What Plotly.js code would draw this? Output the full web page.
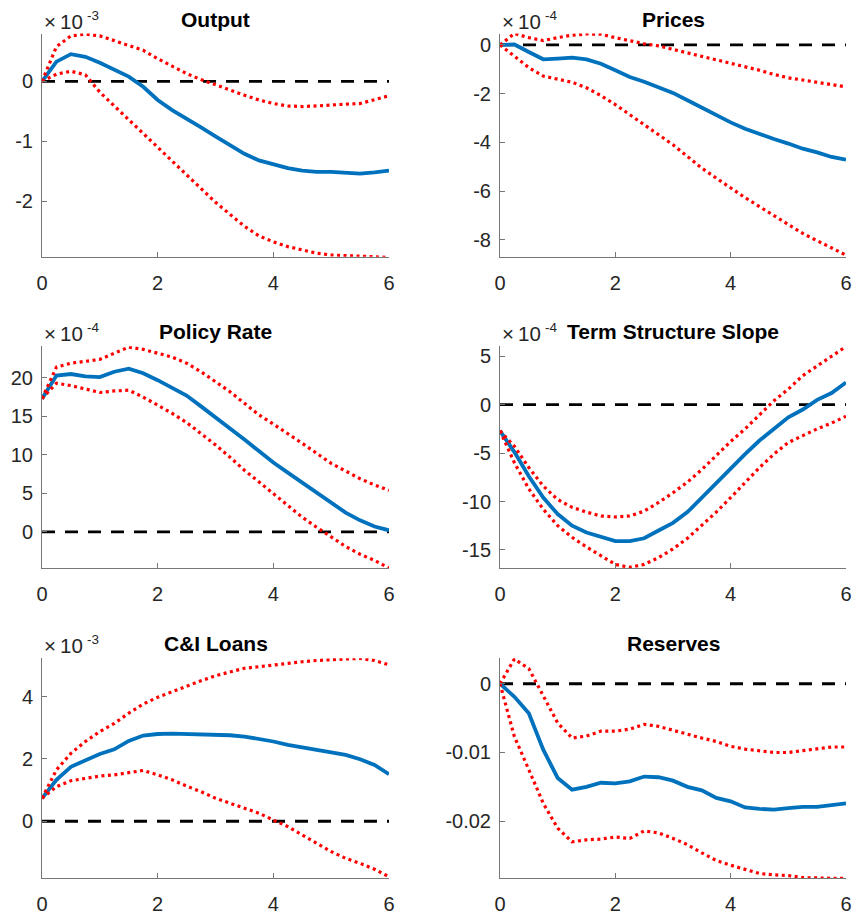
<!DOCTYPE html>
<html>
<head>
<meta charset="utf-8">
<script src="https://cdn.plot.ly/plotly-3.0.1.min.js"></script>
<style>html,body{margin:0;padding:0;background:#fff;}#chart{width:856px;height:916px;}</style>
</head>
<body>
<div id="chart"></div>
<script>
// horizon (years)
const horizon = [0,0.25,0.5,0.75,1,1.25,1.5,1.75,2,2.25,2.5,2.75,3,3.25,3.5,3.75,4,4.25,4.5,4.75,5,5.25,5.5,5.75,6];

// Output (x 1e-3)
const outputMed = [0,0.33,0.455,0.41,0.31,0.2,0.08,-0.09,-0.31,-0.48,-0.62,-0.77,-0.92,-1.06,-1.21,-1.32,-1.39,-1.45,-1.49,-1.51,-1.51,-1.52,-1.54,-1.52,-1.49];
const outputHi  = [0,0.58,0.76,0.79,0.76,0.68,0.61,0.52,0.38,0.26,0.13,0.03,-0.06,-0.14,-0.23,-0.31,-0.37,-0.41,-0.42,-0.41,-0.39,-0.38,-0.37,-0.31,-0.24];
const outputLo  = [0,0.12,0.17,0.11,-0.18,-0.41,-0.64,-0.87,-1.1,-1.33,-1.56,-1.79,-2.02,-2.22,-2.42,-2.58,-2.68,-2.76,-2.82,-2.87,-2.9,-2.91,-2.92,-2.92,-2.94];

// Prices (x 1e-4)
const pricesMed = [0,0.02,-0.29,-0.59,-0.56,-0.52,-0.59,-0.77,-1.04,-1.32,-1.51,-1.72,-1.97,-2.27,-2.58,-2.9,-3.18,-3.44,-3.66,-3.86,-4.05,-4.26,-4.41,-4.6,-4.71];
const pricesHi  = [0,0.47,0.3,0.18,0.3,0.4,0.45,0.44,0.3,0.16,0.05,-0.04,-0.18,-0.32,-0.45,-0.59,-0.76,-0.89,-1.04,-1.21,-1.35,-1.44,-1.53,-1.62,-1.72];
const pricesLo  = [0,-0.45,-0.93,-1.28,-1.39,-1.53,-1.76,-2.08,-2.45,-2.86,-3.27,-3.68,-4.1,-4.58,-5.06,-5.47,-5.88,-6.27,-6.64,-7.01,-7.4,-7.74,-8.04,-8.32,-8.63];

// Policy Rate (x 1e-4)
const policyMed = [17.3,20.3,20.5,20.2,20.1,20.8,21.2,20.6,19.7,18.7,17.7,16.3,14.9,13.4,12.0,10.5,9.0,7.7,6.4,5.0,3.7,2.5,1.5,0.7,0.2];
const policyHi  = [17.3,21.4,21.9,22.1,22.4,23.2,24.0,23.7,23.2,22.7,21.9,20.8,19.5,18.2,16.7,15.2,14.0,12.8,11.5,10.2,8.9,7.9,6.9,6.1,5.4];
const policyLo  = [17.3,19.3,19.0,18.6,18.1,18.3,18.4,17.5,16.5,15.4,14.2,12.8,11.3,9.7,8.0,6.5,5.0,3.5,1.9,0.6,-0.6,-1.9,-2.9,-3.7,-4.7];

// Term Structure Slope (x 1e-4)
const slopeMed = [-2.7,-4.9,-7.4,-9.6,-11.3,-12.5,-13.2,-13.6,-14.1,-14.1,-13.8,-13.0,-12.2,-11.1,-9.6,-8.0,-6.6,-5.1,-3.7,-2.5,-1.3,-0.5,0.5,1.2,2.3];
const slopeHi  = [-2.7,-4.3,-6.5,-8.4,-9.8,-10.6,-11.1,-11.5,-11.6,-11.5,-11.0,-10.1,-9.1,-8.0,-6.7,-5.2,-3.8,-2.5,-1.1,0.4,1.6,3.0,4.0,5.0,6.0];
const slopeLo  = [-2.7,-6.0,-8.7,-10.8,-12.5,-13.7,-14.7,-15.6,-16.5,-16.8,-16.5,-15.8,-14.9,-13.8,-12.5,-11.1,-9.6,-8.0,-6.5,-5.1,-3.9,-3.2,-2.5,-1.9,-1.2];

// C&I Loans (x 1e-3)
const loansMed = [0.74,1.33,1.75,1.97,2.16,2.31,2.58,2.75,2.8,2.81,2.8,2.77,2.75,2.76,2.72,2.65,2.56,2.45,2.37,2.31,2.24,2.13,1.99,1.81,1.51];
const loansHi  = [0.74,1.65,2.18,2.56,2.88,3.14,3.47,3.76,3.98,4.16,4.34,4.51,4.67,4.8,4.91,4.96,5.02,5.07,5.12,5.16,5.18,5.19,5.23,5.16,5.02];
const loansLo  = [0.74,1.11,1.3,1.38,1.45,1.49,1.56,1.63,1.49,1.33,1.13,0.95,0.74,0.58,0.42,0.26,0.04,-0.17,-0.44,-0.71,-0.97,-1.19,-1.35,-1.54,-1.78];

// Reserves
const reservesMed = [0,-0.0019,-0.0043,-0.0096,-0.0137,-0.0154,-0.0150,-0.0144,-0.0145,-0.0142,-0.0135,-0.0136,-0.0141,-0.0150,-0.0155,-0.0166,-0.0171,-0.0180,-0.0182,-0.0183,-0.0181,-0.0179,-0.0179,-0.0176,-0.0174];
const reservesHi  = [0,0.0036,0.0022,-0.0018,-0.0057,-0.0079,-0.0076,-0.0069,-0.0069,-0.0066,-0.0059,-0.0062,-0.0068,-0.0074,-0.0079,-0.0084,-0.0091,-0.0095,-0.0097,-0.0100,-0.0100,-0.0097,-0.0094,-0.0092,-0.0092];
const reservesLo  = [0,-0.0077,-0.0125,-0.0174,-0.0210,-0.0230,-0.0227,-0.0226,-0.0223,-0.0225,-0.0214,-0.0217,-0.0225,-0.0234,-0.0246,-0.0257,-0.0264,-0.0270,-0.0276,-0.0278,-0.0279,-0.0282,-0.0283,-0.0283,-0.0283];

const titles = ["Output","Prices","Policy Rate","Term Structure Slope","C&I Loans","Reserves"];
const exponents = ["-3","-4","-4","-4","-3",""];
const xTicks = [0,2,4,6];
const yTickVals = [[-2,-1,0],[-8,-6,-4,-2,0],[0,5,10,15,20],[-15,-10,-5,0,5],[0,2,4],[-0.02,-0.01,0]];
const yTickText = [["-2","-1","0"],["-8","-6","-4","-2","0"],["0","5","10","15","20"],["-15","-10","-5","0","5"],["0","2","4"],["-0.02","-0.01","0"]];
const yRanges = [[-2.93,0.8],[-8.7,0.47],[-4.73,24.1],[-16.9,6.03],[-1.83,5.23],[-0.0283,0.0037]];

const panels = [
  [outputMed,outputHi,outputLo],
  [pricesMed,pricesHi,pricesLo],
  [policyMed,policyHi,policyLo],
  [slopeMed,slopeHi,slopeLo],
  [loansMed,loansHi,loansLo],
  [reservesMed,reservesHi,reservesLo]
];

const W = 856, H = 916;
const colDom = [[42/W, 389/W],[500/W, 846/W]];
const rowDom = [[1-256.8/H, 1-33.5/H],[1-568.3/H, 1-346.3/H],[1-878.3/H, 1-658.3/H]];
const FONT = 'Liberation Sans, Arial, sans-serif';

const traces = [];
const layout = {
  width: W, height: H,
  margin: {l:0,r:0,t:0,b:0},
  paper_bgcolor: '#fff', plot_bgcolor: '#fff',
  showlegend: false,
  font: {family: FONT, color: '#262626', size: 20},
  annotations: []
};

panels.forEach((p, i) => {
  const n = i + 1;
  const sfx = (n === 1 ? '' : String(n));
  const xa = 'x' + sfx, ya = 'y' + sfx;
  const row = Math.floor(i / 2), col = i % 2;
  const last = horizon.length - 1;
  traces.push({x: [horizon[0], horizon[last]], y: [0, 0], xaxis: xa, yaxis: ya, mode: 'lines',
    line: {color: '#000', width: 2.8, dash: '13px,10px'}, hoverinfo: 'skip'});
  traces.push({x: horizon, y: p[0], xaxis: xa, yaxis: ya, mode: 'lines',
    line: {color: '#0072BD', width: 3.8}});
  traces.push({x: horizon, y: p[1], xaxis: xa, yaxis: ya, mode: 'lines',
    line: {color: '#FF0000', width: 3.2, dash: '3px,3.5px'}});
  traces.push({x: horizon, y: p[2], xaxis: xa, yaxis: ya, mode: 'lines',
    line: {color: '#FF0000', width: 3.2, dash: '3px,3.5px'}});

  const axCommon = {showline: true, linecolor: '#777', linewidth: 1, showgrid: false, zeroline: false,
    ticks: 'inside', ticklen: 5, tickwidth: 1, tickcolor: '#777', fixedrange: true,
    tickfont: {size: 20, color: '#262626', family: FONT}};
  layout['xaxis' + sfx] = Object.assign({}, axCommon, {
    domain: colDom[col], anchor: ya, range: [0, 6],
    tickmode: 'array', tickvals: xTicks, ticktext: xTicks.map(String), ticklabelstandoff: 8
  });
  layout['yaxis' + sfx] = Object.assign({}, axCommon, {
    domain: rowDom[row], anchor: xa, range: yRanges[i],
    tickmode: 'array', tickvals: yTickVals[i], ticktext: yTickText[i], ticklabelstandoff: 4
  });

  const xc = (colDom[col][0] + colDom[col][1]) / 2;
  layout.annotations.push({text: '<b>' + titles[i].replace('&','&amp;') + '</b>', xref: 'paper', yref: 'paper',
    x: xc, y: rowDom[row][1], xanchor: 'center', yanchor: 'bottom', yshift: 1, showarrow: false,
    font: {size: 21, color: '#000', family: FONT}});
  if (exponents[i]) {
    layout.annotations.push({text: '×\u200910', xref: 'paper', yref: 'paper',
      x: colDom[col][0], y: rowDom[row][1], xanchor: 'left', yanchor: 'bottom', yshift: -1, xshift: 0,
      showarrow: false, font: {size: 20.5, color: '#262626', family: FONT}});
    layout.annotations.push({text: exponents[i], xref: 'paper', yref: 'paper',
      x: colDom[col][0], y: rowDom[row][1], xanchor: 'left', yanchor: 'bottom', yshift: 9, xshift: 43,
      showarrow: false, font: {size: 13.5, color: '#262626', family: FONT}});
  }
});

Plotly.newPlot('chart', traces, layout, {displayModeBar: false, staticPlot: true});
</script>
</body>
</html>
